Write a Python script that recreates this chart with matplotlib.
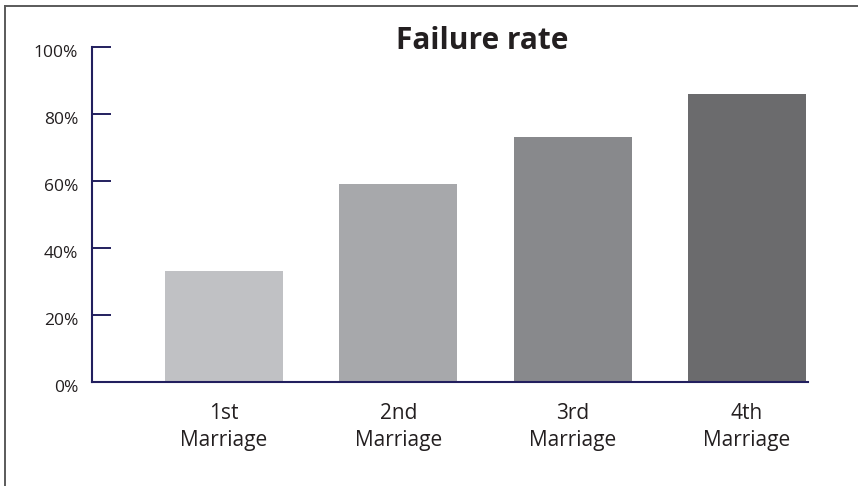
import matplotlib.pyplot as plt
import matplotlib.transforms as mtransforms
from matplotlib.lines import Line2D

categories = ["1st\nMarriage", "2nd\nMarriage", "3rd\nMarriage", "4th\nMarriage"]
failure_rate = [33, 59, 73, 86]
bar_colors = ["#c0c1c4", "#a7a8ab", "#88898c", "#6b6b6d"]
y_ticks = [0, 20, 40, 60, 80, 100]
y_labels = ["0%", "20%", "40%", "60%", "80%", "100%"]

plt.rcParams['font.family'] = ['Open Sans', 'DejaVu Sans']
navy = "#221f5e"
text_col = "#231f20"

fig = plt.figure(figsize=(8.58, 4.86), dpi=100)
ax = fig.add_axes([92 / 858, 104 / 486, (808 - 92) / 858, (439 - 104) / 486])

x = range(len(categories))
ax.bar(x, failure_rate, width=0.678, color=bar_colors, zorder=2)

ax.set_xlim(-0.757, 3.35)
ax.set_ylim(0, 100)

ax.set_yticks(y_ticks)
ax.set_yticklabels(y_labels)
ax.set_xticks(list(x))
ax.set_xticklabels(categories, linespacing=1.38)

ax.tick_params(axis='y', direction='in', length=14, width=1.4, color=navy,
               pad=10, labelsize=12.5, labelcolor=text_col)
ax.tick_params(axis='x', length=0, pad=15, labelsize=15, labelcolor=text_col)

# nudge y labels down a little, as in the original
shift = mtransforms.ScaledTranslation(0, -4 / 100, fig.dpi_scale_trans)
for lbl in ax.get_yticklabels():
    lbl.set_transform(lbl.get_transform() + shift)

for s in ['top', 'right']:
    ax.spines[s].set_visible(False)
for s in ['left', 'bottom']:
    ax.spines[s].set_color(navy)
    ax.spines[s].set_linewidth(1.5)
ax.spines['bottom'].set_zorder(3)

fig.text(482 / 858, 1 - 41 / 486, "Failure rate", ha='center', va='center',
         fontsize=21.5, fontweight='bold', color=text_col)

# frame lines on the left and top
fig.add_artist(Line2D([4.5 / 858, 4.5 / 858], [0, 1 - 6.5 / 486],
                      color="#5a5a5a", lw=1.4, transform=fig.transFigure))
fig.add_artist(Line2D([4.5 / 858, 1], [1 - 6.5 / 486, 1 - 6.5 / 486],
                      color="#5a5a5a", lw=1.4, transform=fig.transFigure))

fig.savefig("out.png", dpi=100)
